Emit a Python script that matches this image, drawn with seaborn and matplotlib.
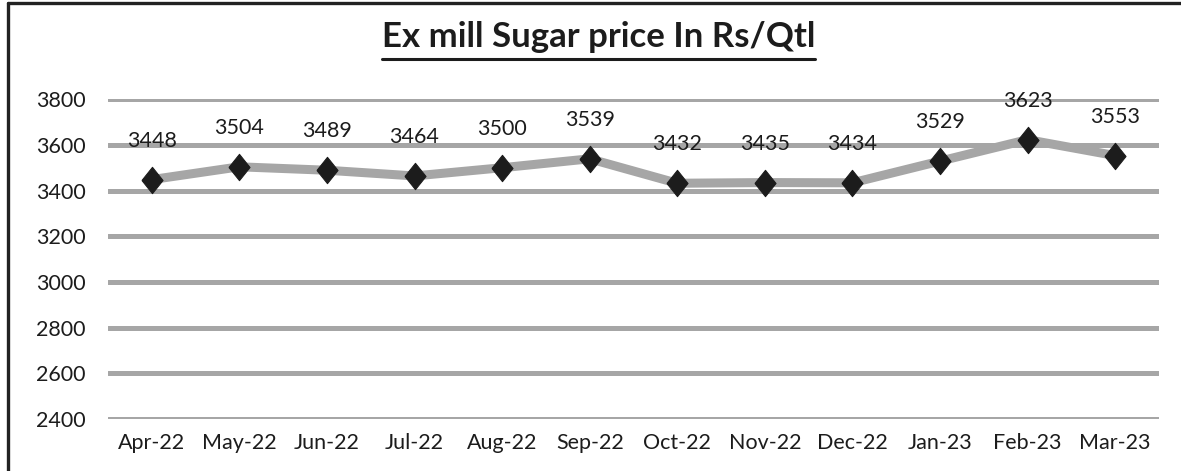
import pandas as pd
import matplotlib
matplotlib.use("Agg")
import matplotlib.pyplot as plt
from matplotlib.lines import Line2D
import seaborn as sns

months = ["Apr-22", "May-22", "Jun-22", "Jul-22", "Aug-22", "Sep-22",
          "Oct-22", "Nov-22", "Dec-22", "Jan-23", "Feb-23", "Mar-23"]
prices = [3448, 3504, 3489, 3464, 3500, 3539, 3432, 3435, 3434, 3529, 3623, 3553]
y_ticks = [2400, 2600, 2800, 3000, 3200, 3400, 3600, 3800]

df = pd.DataFrame({"month": months, "price": prices})

sns.set_style("white")
plt.rcParams["font.family"] = ["Lato", "DejaVu Sans"]

fig = plt.figure(figsize=(11.81, 4.71), dpi=100)
ax = fig.add_axes([0.0914, 0.1104, 0.890, 0.679])

# horizontal gridlines, drawn by the axis itself
ax.set_yticks(y_ticks)
ax.set_ylim(y_ticks[0], y_ticks[-1])
ax.yaxis.grid(True, color="#a6a6a6", linewidth=3.6)
ax.set_axisbelow(True)

diamond = [(-0.8, 0), (0, 1), (0.8, 0), (0, -1), (-0.8, 0)]
sns.lineplot(data=df, x="month", y="price", sort=False, ax=ax,
             color="#a6a6a6", linewidth=6.5, marker=diamond, markersize=19,
             markerfacecolor="#1c1c1c", markeredgecolor="#1c1c1c")

ax.set_xlim(-0.5, len(months) - 0.5)
ax.set_xlabel("")
ax.set_ylabel("")
for s in ax.spines.values():
    s.set_visible(False)
ax.tick_params(axis="both", length=0, labelsize=15.5, colors="#1c1c1c")
ax.tick_params(axis="y", pad=16)
ax.tick_params(axis="x", pad=10)

for i, v in enumerate(prices):
    ax.annotate(str(v), (i, v), xytext=(0, 28), textcoords="offset points",
                ha="center", va="center", fontsize=15.5, color="#1c1c1c")

# title with underline
t = fig.text(0.507, 0.900, "Ex mill Sugar price In Rs/Qtl", ha="center",
             va="baseline", fontsize=25, fontweight="bold", color="#1c1c1c")
fig.canvas.draw()
bb = t.get_window_extent().transformed(fig.transFigure.inverted())
fig.add_artist(Line2D([bb.x0, bb.x1], [0.875, 0.875], transform=fig.transFigure,
                      color="#1c1c1c", linewidth=2.2))

# frame edges (top and left)
fig.add_artist(Line2D([0.0068, 1.0], [0.993, 0.993], transform=fig.transFigure,
                      color="#222222", linewidth=2.4))
fig.add_artist(Line2D([0.0068, 0.0068], [0.0, 0.993], transform=fig.transFigure,
                      color="#222222", linewidth=2.4))

fig.savefig("out.png", dpi=100)
